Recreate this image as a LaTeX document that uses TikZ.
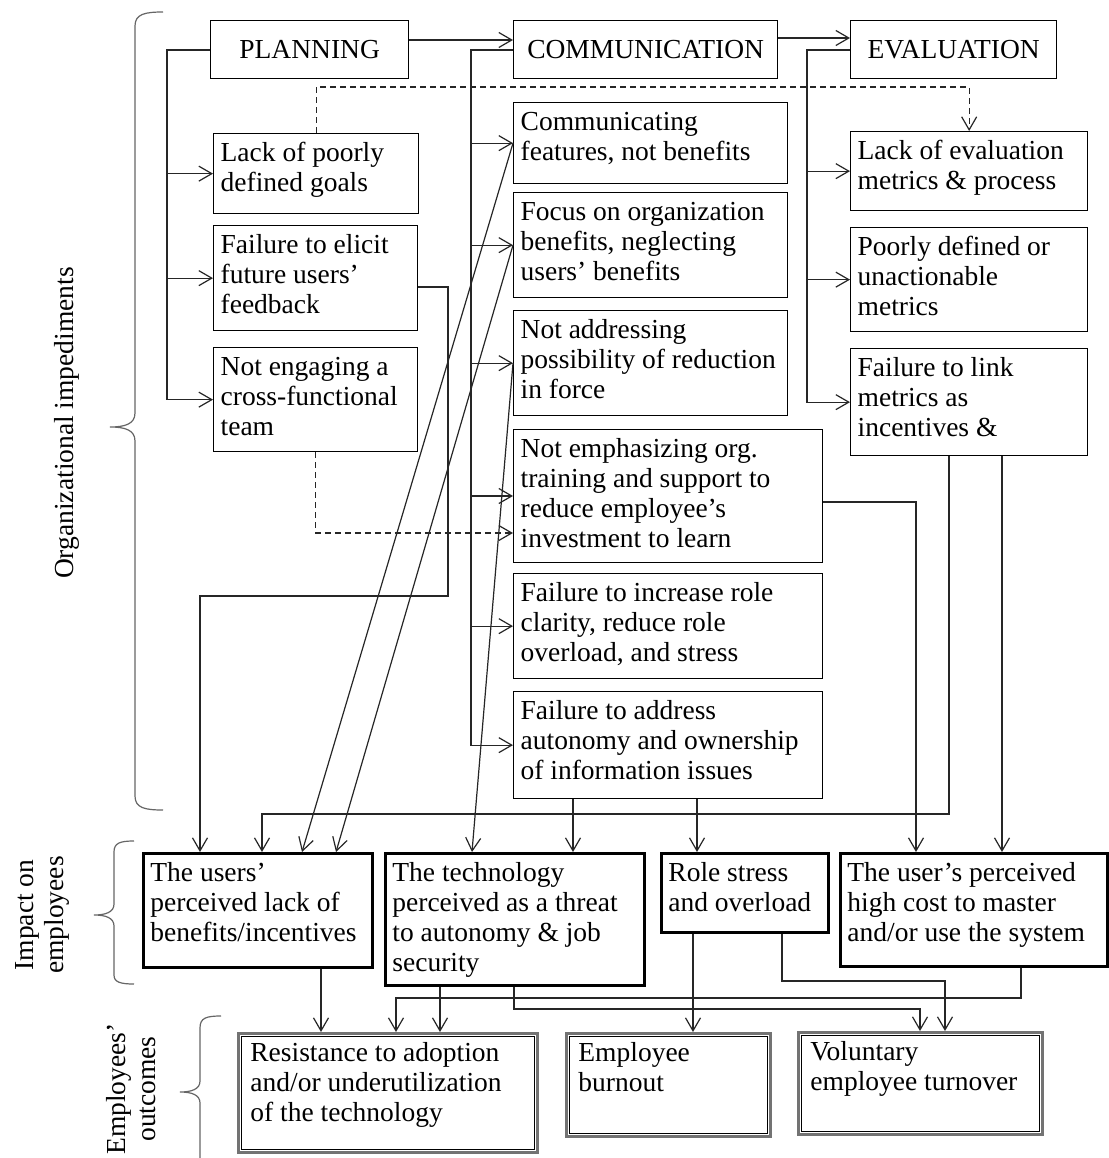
\documentclass[tikz,border=0pt]{standalone}
\usepackage{fontspec}
\setmainfont{Liberation Serif}
\usetikzlibrary{arrows.meta}
% text block of a box: width and height of the whole box in pt, lines set from the top
\newcommand{\cell}[3]{\parbox[c][\dimexpr#2pt-14pt\relax][t]{\dimexpr#1pt-14pt\relax}{\raggedright\strut#3}}
\tikzset{
  base/.style={font=\fontsize{27.5}{30}\selectfont, anchor=north west, inner xsep=7pt, inner ysep=7pt},
  obox/.style={base, draw=black, line width=1.3pt},
  hbox/.style={obox, inner sep=0pt, align=center},
  ibox/.style={base, draw=black, line width=2.8pt},
  ubox/.style={base, draw=black!55, line width=2.8pt},
  inframe/.style={draw=black, line width=1.6pt},
  link/.style={draw=black!85, line width=1.2pt},
  arr/.style={link, -{Straight Barb[length=13pt,width=15pt]}},
  dasharr/.style={arr, dash pattern=on 6pt off 4pt},
  brace/.style={draw=black!60, line width=1.2pt},
  side/.style={font=\fontsize{27.5}{30}\selectfont, rotate=90, align=center, inner sep=0pt},
}
\begin{document}
\begin{tikzpicture}[x=1pt,y=-1pt]
\fill[white] (0,0) rectangle (1108,1158);
\useasboundingbox (0,0) rectangle (1108,1158);

% ---- stage headers
\node[hbox, minimum width=198pt, minimum height=58pt] (plan) at (210,20) {PLANNING};
\node[hbox, minimum width=264pt, minimum height=58pt] (comm) at (513,20) {COMMUNICATION};
\node[hbox, minimum width=206pt, minimum height=58pt] (eval) at (850,20) {EVALUATION};

% ---- planning impediments
\node[obox] (lack)   at (213,133) {\cell{205}{80}{Lack of poorly\\defined goals}};
\node[obox] (elicit) at (213,225) {\cell{204}{105}{Failure to elicit\\future users’\\feedback}};
\node[obox] (engage) at (213,347) {\cell{204}{104}{Not engaging a\\cross-functional\\team}};

% ---- communication impediments
\node[obox] (cfeat)  at (513,102) {\cell{274}{81}{Communicating\\features, not benefits}};
\node[obox] (cfocus) at (513,192) {\cell{274}{105}{Focus on organization\\benefits, neglecting\\users’ benefits}};
\node[obox] (caddr)  at (513,310) {\cell{274}{105}{Not addressing\\possibility of reduction\\in force}};
\node[obox] (cemph)  at (513,429) {\cell{309}{133}{Not emphasizing org.\\training and support to\\reduce employee’s\\investment to learn}};
\node[obox] (crole)  at (513,573) {\cell{309}{105}{Failure to increase role\\clarity, reduce role\\overload, and stress}};
\node[obox] (cauto)  at (513,691) {\cell{309}{107}{Failure to address\\autonomy and ownership\\of information issues}};

% ---- evaluation impediments
\node[obox] (elack) at (850,131) {\cell{237}{79}{Lack of evaluation\\metrics \& process}};
\node[obox] (epoor) at (850,227) {\cell{237}{104}{Poorly defined or\\unactionable\\metrics}};
\node[obox] (elink) at (850,348) {\cell{237}{107}{Failure to link\\metrics as\\incentives \&}};

% ---- impact on employees
\node[ibox] (iuser) at (142,852) {\cell{229}{114}{The users’\\perceived lack of\\benefits/incentives}};
\node[ibox] (itech) at (384,852) {\cell{259}{132}{The technology\\perceived as a threat\\to autonomy \& job\\security}};
\node[ibox] (irole) at (660,852) {\cell{167}{79}{Role stress\\and overload}};
\node[ibox] (icost) at (839,852) {\cell{267}{113}{The user’s perceived\\high cost to master\\and/or use the system}};

% ---- outcomes (double frame)
\node[ubox] (ores)  at (237,1032) {\cell{299}{119}{\hspace*{5pt}Resistance to adoption\\\hspace*{5pt}and/or underutilization\\\hspace*{5pt}of the technology}};
\node[ubox] (oburn) at (565,1032) {\cell{204}{103}{\hspace*{5pt}Employee\\\hspace*{5pt}burnout}};
\node[ubox] (oturn) at (797,1031) {\cell{244}{102}{\hspace*{5pt}Voluntary\\\hspace*{5pt}employee turnover}};
\foreach \n in {ores,oburn,oturn}
  \draw[inframe] ([xshift=4.5pt,yshift=-4.5pt]\n.north west) rectangle ([xshift=-4.5pt,yshift=4.5pt]\n.south east);

% ---- side labels and braces
\node[side] (orglab) at (67,423) {Organizational impediments};
\node[side] (implab) at (42,915) {Impact on\\employees};
\node[side] (outlab) at (131,1089) {Employees’\\outcomes};
\draw[brace] (163,12) .. controls (145,12) and (135,14) .. (135,26) -- (135,413)
  .. controls (135,424) and (125,427) .. (110,427) .. controls (125,427) and (135,430) .. (135,441)
  -- (135,796) .. controls (135,808) and (145,810) .. (163,810);
\draw[brace] (134,841) .. controls (120,841) and (114,843) .. (114,852) -- (114,904)
  .. controls (114,912) and (106,915) .. (94,915) .. controls (106,915) and (114,918) .. (114,926)
  -- (114,975) .. controls (114,982) and (120,984) .. (134,984);
\draw[brace] (221,1016) .. controls (206,1016) and (200,1018) .. (200,1028) -- (200,1081)
  .. controls (200,1089) and (192,1092) .. (180,1092) .. controls (192,1092) and (200,1095) .. (200,1103)
  -- (200,1158);

% ---- stage sequence
\draw[arr] (plan.east |- 0,40) -- (comm.west |- 0,40);
\draw[arr] (comm.east |- 0,38) -- (eval.west |- 0,38);

% ---- planning trunk
\coordinate (pt) at (167,50);
\draw[arr] (plan.west |- pt) -- (pt) |- (engage.west);
\draw[arr] (pt |- lack.west) -- (lack.west);
\draw[arr] (pt |- elicit.west) -- (elicit.west);

% ---- communication trunk
\coordinate (ct) at (471,50);
\draw[arr] (comm.west |- ct) -- (ct) |- (cauto.west);
\foreach \n in {cfeat,cfocus,caddr,crole}
  \draw[arr] (ct |- \n.west) -- (\n.west);
\draw[arr] (ct |- 0,496) -- (cemph.west |- 0,496);

% ---- evaluation trunk
\coordinate (et) at (807,50);
\draw[arr] (eval.west |- et) -- (et) |- (elink.west);
\draw[arr] (et |- elack.west) -- (elack.west);
\draw[arr] (et |- epoor.west) -- (epoor.west);

% ---- dashed cross-stage links
\draw[dasharr] (lack.north) -- ++(0,-46) -| (elack.north);
\draw[dasharr] (engage.south) |- (cemph.west |- 0,533);

% ---- impediments to impacts
\draw[arr] (elicit.east |- 0,287) -| (448,596) -| (iuser.north -| 200,0);
\draw[arr] (cfeat.west) -- (iuser.north -| 302,0);
\draw[arr] (cfocus.west) -- (iuser.north -| 336,0);
\draw[arr] (caddr.west) -- (itech.north -| 472,0);
\draw[arr] (elink.south -| 949,0) |- (262,814) -- (iuser.north -| 262,0);
\draw[arr] (elink.south -| 1002,0) -- (icost.north -| 1002,0);
\draw[arr] (cauto.south -| 573,0) -- (itech.north -| 573,0);
\draw[arr] (cauto.south -| 697,0) -- (irole.north -| 697,0);
\draw[arr] (cemph.east |- 0,502) -| (icost.north -| 916,0);

% ---- impacts to outcomes
\draw[arr] (iuser.south -| 321,0) -- (ores.north -| 321,0);
\draw[arr] (itech.south -| 440,0) -- (ores.north -| 440,0);
\draw[arr] (itech.south -| 514,0) |- (920,1009) -- (oturn.north -| 920,0);
\draw[arr] (irole.south -| 693,0) -- (oburn.north -| 693,0);
\draw[arr] (irole.south -| 782,0) |- (945,981) -- (oturn.north -| 945,0);
\draw[arr] (icost.south -| 1021,0) |- (396,998) -- (ores.north -| 396,0);
\end{tikzpicture}
\end{document}
